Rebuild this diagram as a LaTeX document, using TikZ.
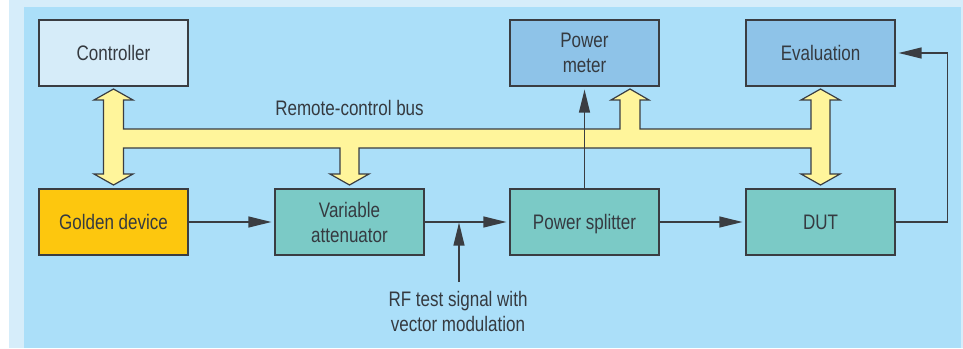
\documentclass[tikz,border=0pt]{standalone}
\usepackage{fontspec}
\setmainfont{Liberation Sans}[FakeStretch=0.81]
\usetikzlibrary{arrows.meta}
\definecolor{outerc}{HTML}{D6EDFA}
\definecolor{innerc}{HTML}{ABDFF9}
\definecolor{ctrlc}{HTML}{D6ECF9}
\definecolor{pmc}{HTML}{8EC3E8}
\definecolor{goldc}{HTML}{FDC70E}
\definecolor{tealc}{HTML}{7BCAC6}
\definecolor{busc}{HTML}{FFF59B}
\definecolor{linec}{HTML}{3A3D42}
\definecolor{textc}{HTML}{353A40}
\tikzset{
  box/.style={draw=linec, line width=1.2pt, minimum width=149pt, minimum height=66pt,
    inner sep=0pt, align=center, text=textc, text depth=0pt, font=\fontsize{21}{25}\selectfont},
  conn/.style={draw=linec, line width=1.3pt, -{Triangle[length=23pt,width=11pt]}, shorten >=3pt},
  lbl/.style={text=textc, align=center, inner sep=0pt, font=\fontsize{21}{25}\selectfont},
  bus/.style={fill=busc, draw=linec, line width=1.2pt, line join=miter}
}
\begin{document}
\begin{tikzpicture}[x=1pt,y=-1pt]
\useasboundingbox (0,0) rectangle (963,348);
\fill[outerc] (9,0) rectangle (963,348);
\fill[innerc] (24,7) rectangle (961,348);

\node[box, fill=ctrlc] (ctrl) at (113.5,53) {Controller};
\node[box, fill=pmc] (pm) at (584.5,53) {Power\\meter};
\node[box, fill=pmc] (eval) at (820.5,53) {Evaluation};
\node[box, fill=goldc] (gold) at (113.5,222) {Golden device};
\node[box, fill=tealc] (att) at (349.5,222) {Variable\\attenuator};
\node[box, fill=tealc] (split) at (584.5,222) {Power splitter};
\node[box, fill=tealc] (dut) at (820.5,222) {DUT};

% remote-control bus
\path[bus] (113.5,89) -- (133,100) -- (123.5,100) -- (123.5,129)
  -- (620,129) -- (620,100) -- (611,100) -- (630,89) -- (649,100) -- (640,100) -- (640,129)
  -- (811,129) -- (811,100) -- (801,100) -- (820.5,89) -- (840,100) -- (830,100)
  -- (830,174) -- (840,174) -- (820.5,185) -- (801,174) -- (811,174) -- (811,148)
  -- (359,148) -- (359,174) -- (369,174) -- (349.5,185) -- (330,174) -- (340,174) -- (340,148)
  -- (123.5,148) -- (123.5,174) -- (133,174) -- (113.5,185) -- (94,174) -- (103.5,174)
  -- (103.5,100) -- (94,100) -- cycle;
\node[lbl] (buslbl) at (349.5,108) {Remote-control bus};

% signal connectors
\draw[conn] (gold.east) -- (att.west);
\draw[conn] (att.east) -- (split.west);
\draw[conn] (split.east) -- (dut.west);
\draw[conn] (split.north) -- (pm.south);
\draw[conn] (dut.east) -- ++(52,0) |- (eval.east);
\coordinate (rfin) at (459,282);
\coordinate (rfjoin) at (459,222.6);
\draw[conn, shorten >=0pt] (rfin) -- (rfjoin);
\node[lbl, anchor=north] (rflbl) at (458,291) {RF test signal with\\vector modulation};
\end{tikzpicture}
\end{document}
